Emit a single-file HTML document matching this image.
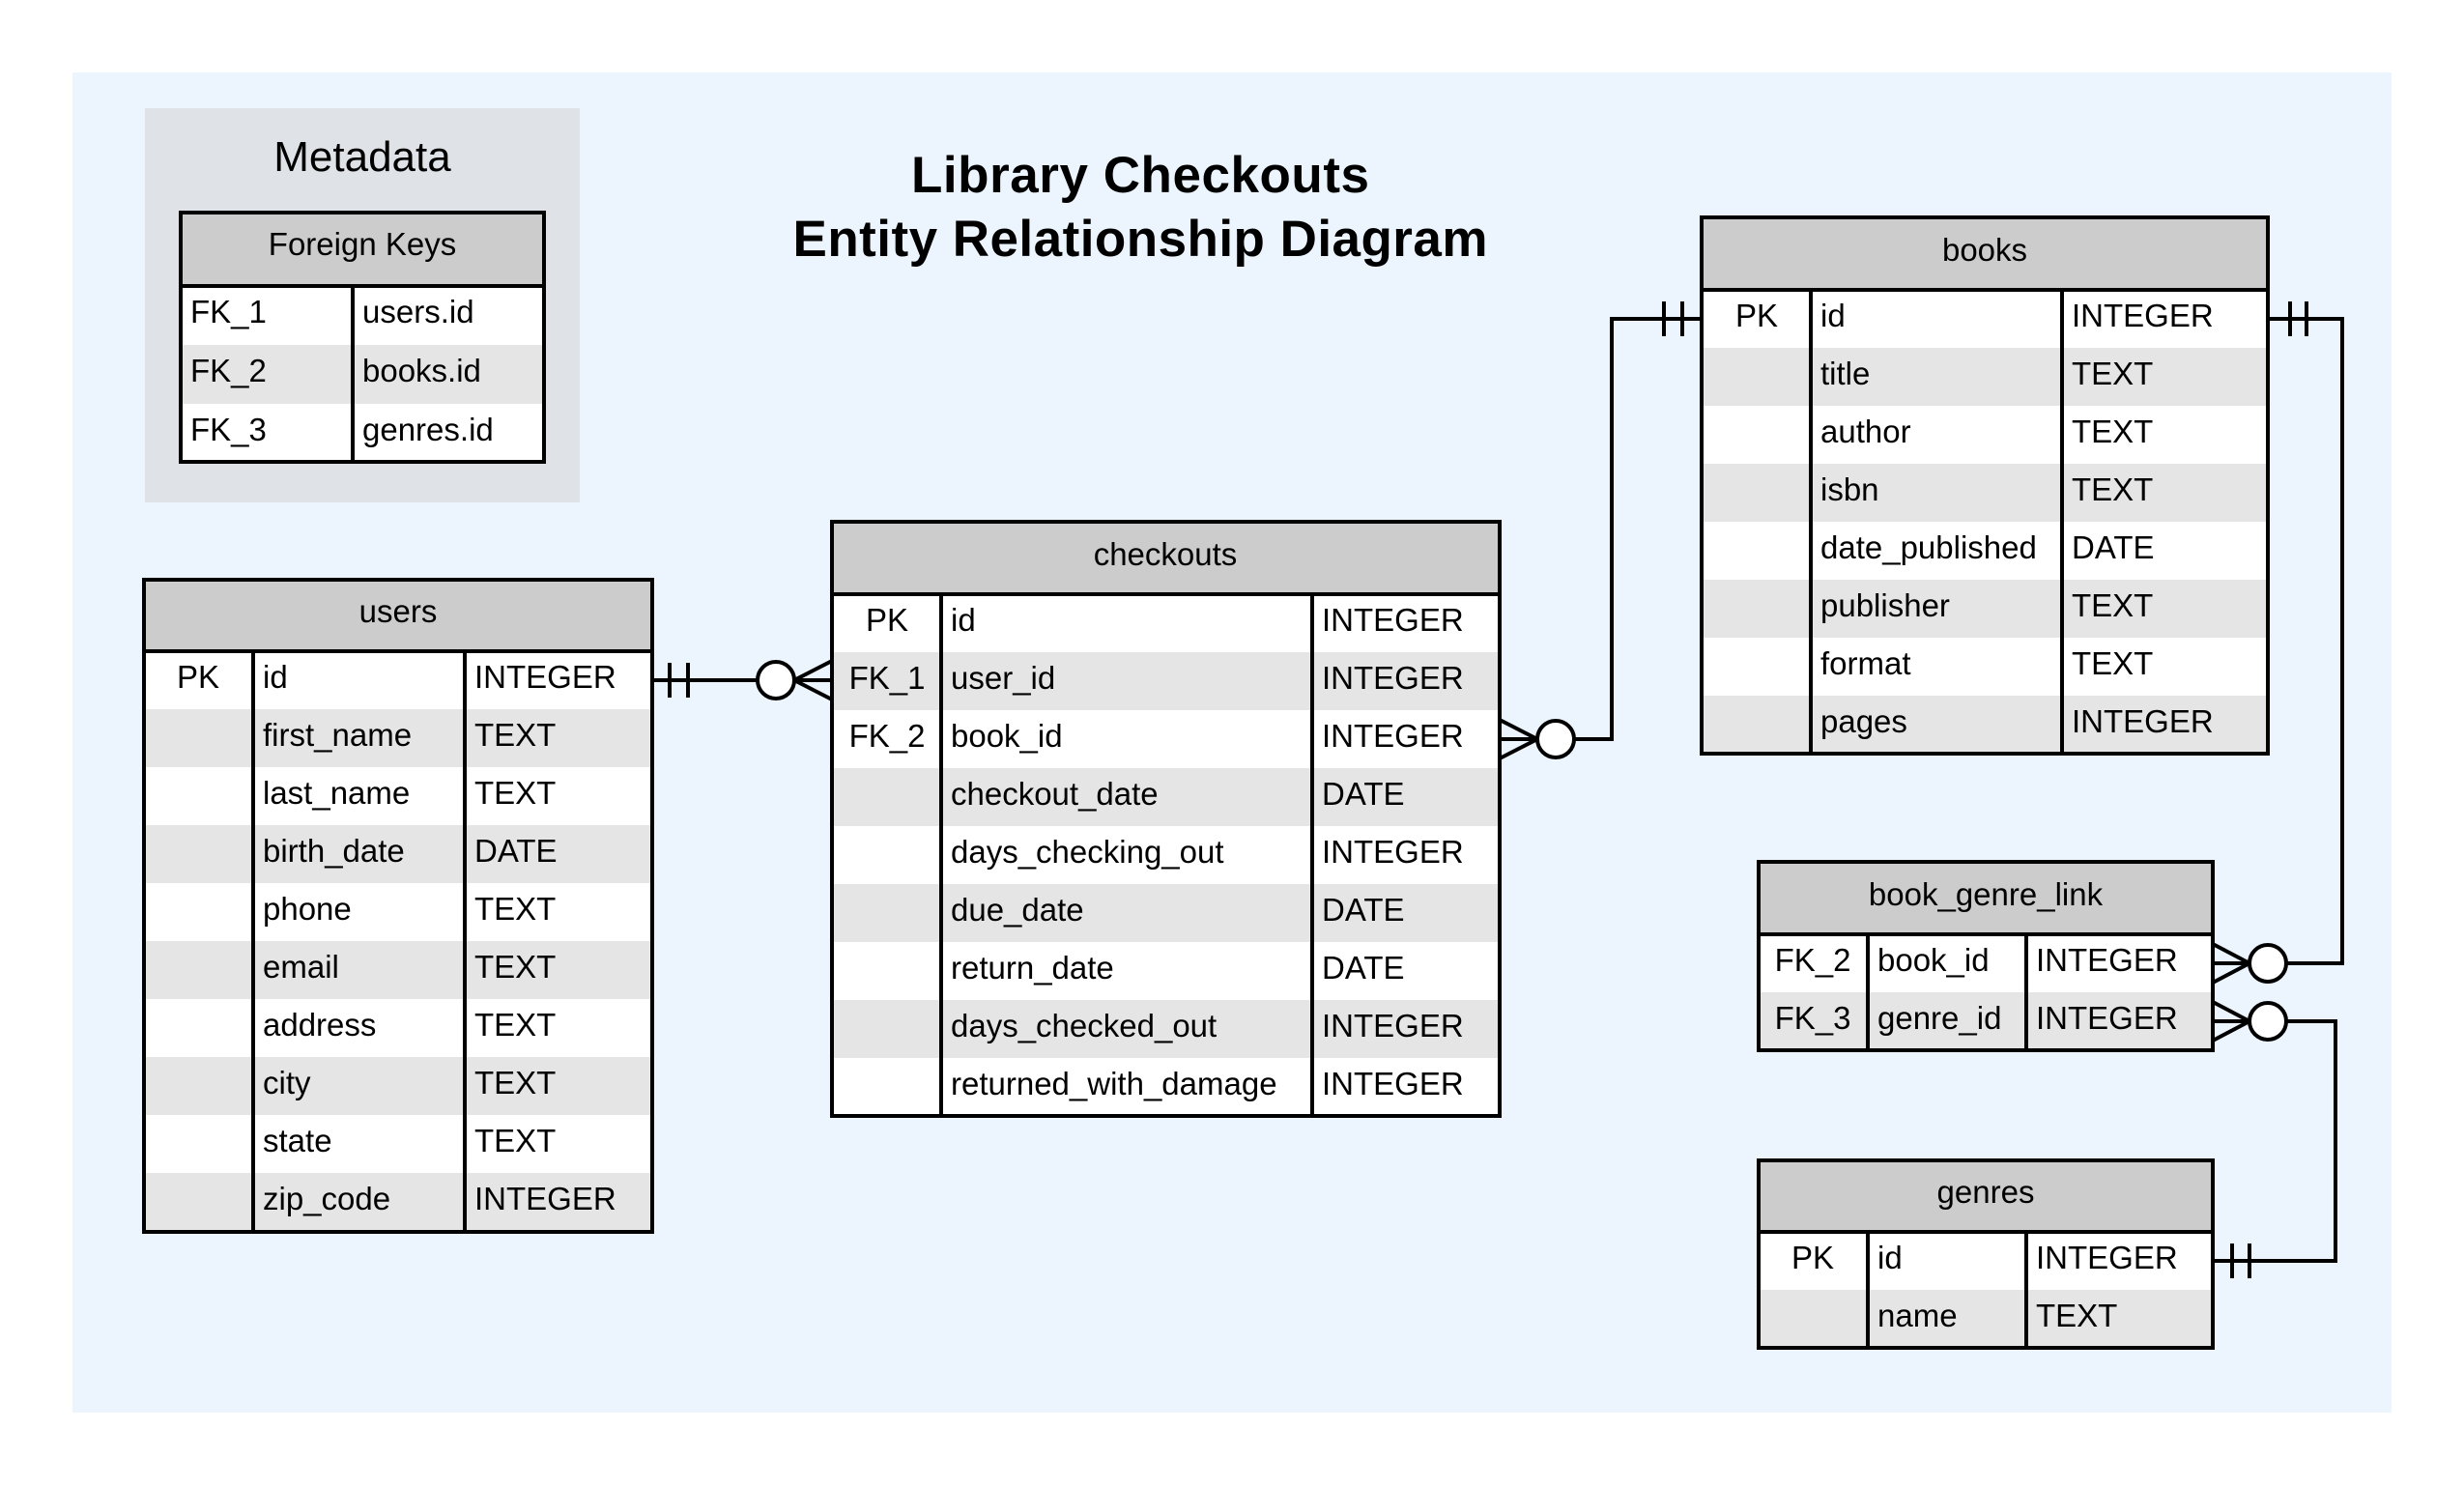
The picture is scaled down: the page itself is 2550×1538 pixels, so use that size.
<!DOCTYPE html>
<html><head><meta charset="utf-8"><style>
html,body{margin:0;padding:0;background:#fff}
svg{display:block}
text{font-family:"Liberation Sans",Arial,sans-serif;fill:#000}
.f{font-size:33px;transform:translateY(-4px)}
.h{font-size:33px;text-anchor:middle;transform:translateY(-4px)}
.c{text-anchor:middle}
</style></head><body>
<svg width="2550" height="1538" viewBox="0 0 2550 1538" xmlns="http://www.w3.org/2000/svg">
<rect x="0" y="0" width="2550" height="1538" fill="#fff"/>
<rect x="75" y="75" width="2400" height="1387" fill="#ecf4fe"/>
<rect x="150" y="112" width="450" height="408" fill="#dfe3e8"/>
<text x="375" y="177" class="c" style="font-size:44px">Metadata</text>

<text x="1180" y="199" class="c" style="font-size:53px;font-weight:bold" textLength="474">Library Checkouts</text>
<text x="1180" y="265" class="c" style="font-size:53px;font-weight:bold" textLength="719">Entity Relationship Diagram</text>

<!-- Foreign keys table -->
<g>
<rect x="187" y="220" width="376" height="76" fill="#cccccc"/>
<rect x="187" y="296" width="376" height="61" fill="#fff"/>
<rect x="187" y="357" width="376" height="61" fill="#e5e5e5"/>
<rect x="187" y="418" width="376" height="60" fill="#fff"/>
<line x1="365" y1="296" x2="365" y2="478" stroke="#000" stroke-width="4"/>
<line x1="187" y1="296" x2="563" y2="296" stroke="#000" stroke-width="4"/>
<rect x="187" y="220" width="376" height="258" fill="none" stroke="#000" stroke-width="4"/>
<text x="375" y="268" class="h">Foreign Keys</text>
<text x="197" y="338" class="f">FK_1</text><text x="375" y="338" class="f">users.id</text>
<text x="197" y="399" class="f">FK_2</text><text x="375" y="399" class="f">books.id</text>
<text x="197" y="460" class="f">FK_3</text><text x="375" y="460" class="f">genres.id</text>
</g>

<!-- users -->
<g>
<rect x="149" y="600" width="526" height="74" fill="#cccccc"/>
<rect x="149" y="674" width="526" height="60" fill="#fff"/>
<rect x="149" y="734" width="526" height="60" fill="#e5e5e5"/>
<rect x="149" y="794" width="526" height="60" fill="#fff"/>
<rect x="149" y="854" width="526" height="60" fill="#e5e5e5"/>
<rect x="149" y="914" width="526" height="60" fill="#fff"/>
<rect x="149" y="974" width="526" height="60" fill="#e5e5e5"/>
<rect x="149" y="1034" width="526" height="60" fill="#fff"/>
<rect x="149" y="1094" width="526" height="60" fill="#e5e5e5"/>
<rect x="149" y="1154" width="526" height="60" fill="#fff"/>
<rect x="149" y="1214" width="526" height="61" fill="#e5e5e5"/>
<line x1="262" y1="674" x2="262" y2="1275" stroke="#000" stroke-width="4"/>
<line x1="481" y1="674" x2="481" y2="1275" stroke="#000" stroke-width="4"/>
<line x1="149" y1="674" x2="675" y2="674" stroke="#000" stroke-width="4"/>
<rect x="149" y="600" width="526" height="675" fill="none" stroke="#000" stroke-width="4"/>
<text x="412" y="648" class="h">users</text>
<text x="205" y="716" class="f c">PK</text>
<text x="272" y="716" class="f">id</text><text x="491" y="716" class="f">INTEGER</text>
<text x="272" y="776" class="f">first_name</text><text x="491" y="776" class="f">TEXT</text>
<text x="272" y="836" class="f">last_name</text><text x="491" y="836" class="f">TEXT</text>
<text x="272" y="896" class="f">birth_date</text><text x="491" y="896" class="f">DATE</text>
<text x="272" y="956" class="f">phone</text><text x="491" y="956" class="f">TEXT</text>
<text x="272" y="1016" class="f">email</text><text x="491" y="1016" class="f">TEXT</text>
<text x="272" y="1076" class="f">address</text><text x="491" y="1076" class="f">TEXT</text>
<text x="272" y="1136" class="f">city</text><text x="491" y="1136" class="f">TEXT</text>
<text x="272" y="1196" class="f">state</text><text x="491" y="1196" class="f">TEXT</text>
<text x="272" y="1256" class="f">zip_code</text><text x="491" y="1256" class="f">INTEGER</text>
</g>

<!-- checkouts -->
<g>
<rect x="861" y="540" width="691" height="75" fill="#cccccc"/>
<rect x="861" y="615" width="691" height="60" fill="#fff"/>
<rect x="861" y="675" width="691" height="60" fill="#e5e5e5"/>
<rect x="861" y="735" width="691" height="60" fill="#fff"/>
<rect x="861" y="795" width="691" height="60" fill="#e5e5e5"/>
<rect x="861" y="855" width="691" height="60" fill="#fff"/>
<rect x="861" y="915" width="691" height="60" fill="#e5e5e5"/>
<rect x="861" y="975" width="691" height="60" fill="#fff"/>
<rect x="861" y="1035" width="691" height="60" fill="#e5e5e5"/>
<rect x="861" y="1095" width="691" height="60" fill="#fff"/>
<line x1="974" y1="615" x2="974" y2="1155" stroke="#000" stroke-width="4"/>
<line x1="1358" y1="615" x2="1358" y2="1155" stroke="#000" stroke-width="4"/>
<line x1="861" y1="615" x2="1552" y2="615" stroke="#000" stroke-width="4"/>
<rect x="861" y="540" width="691" height="615" fill="none" stroke="#000" stroke-width="4"/>
<text x="1206" y="589" class="h">checkouts</text>
<text x="918" y="657" class="f c">PK</text>
<text x="918" y="717" class="f c">FK_1</text>
<text x="918" y="777" class="f c">FK_2</text>
<text x="984" y="657" class="f">id</text><text x="1368" y="657" class="f">INTEGER</text>
<text x="984" y="717" class="f">user_id</text><text x="1368" y="717" class="f">INTEGER</text>
<text x="984" y="777" class="f">book_id</text><text x="1368" y="777" class="f">INTEGER</text>
<text x="984" y="837" class="f">checkout_date</text><text x="1368" y="837" class="f">DATE</text>
<text x="984" y="897" class="f">days_checking_out</text><text x="1368" y="897" class="f">INTEGER</text>
<text x="984" y="957" class="f">due_date</text><text x="1368" y="957" class="f">DATE</text>
<text x="984" y="1017" class="f">return_date</text><text x="1368" y="1017" class="f">DATE</text>
<text x="984" y="1077" class="f">days_checked_out</text><text x="1368" y="1077" class="f">INTEGER</text>
<text x="984" y="1137" class="f">returned_with_damage</text><text x="1368" y="1137" class="f">INTEGER</text>
</g>

<!-- books -->
<g>
<rect x="1761" y="225" width="586" height="75" fill="#cccccc"/>
<rect x="1761" y="300" width="586" height="60" fill="#fff"/>
<rect x="1761" y="360" width="586" height="60" fill="#e5e5e5"/>
<rect x="1761" y="420" width="586" height="60" fill="#fff"/>
<rect x="1761" y="480" width="586" height="60" fill="#e5e5e5"/>
<rect x="1761" y="540" width="586" height="60" fill="#fff"/>
<rect x="1761" y="600" width="586" height="60" fill="#e5e5e5"/>
<rect x="1761" y="660" width="586" height="60" fill="#fff"/>
<rect x="1761" y="720" width="586" height="60" fill="#e5e5e5"/>
<line x1="1874" y1="300" x2="1874" y2="780" stroke="#000" stroke-width="4"/>
<line x1="2134" y1="300" x2="2134" y2="780" stroke="#000" stroke-width="4"/>
<line x1="1761" y1="300" x2="2347" y2="300" stroke="#000" stroke-width="4"/>
<rect x="1761" y="225" width="586" height="555" fill="none" stroke="#000" stroke-width="4"/>
<text x="2054" y="274" class="h">books</text>
<text x="1818" y="342" class="f c">PK</text>
<text x="1884" y="342" class="f">id</text><text x="2144" y="342" class="f">INTEGER</text>
<text x="1884" y="402" class="f">title</text><text x="2144" y="402" class="f">TEXT</text>
<text x="1884" y="462" class="f">author</text><text x="2144" y="462" class="f">TEXT</text>
<text x="1884" y="522" class="f">isbn</text><text x="2144" y="522" class="f">TEXT</text>
<text x="1884" y="582" class="f">date_published</text><text x="2144" y="582" class="f">DATE</text>
<text x="1884" y="642" class="f">publisher</text><text x="2144" y="642" class="f">TEXT</text>
<text x="1884" y="702" class="f">format</text><text x="2144" y="702" class="f">TEXT</text>
<text x="1884" y="762" class="f">pages</text><text x="2144" y="762" class="f">INTEGER</text>
</g>

<!-- book_genre_link -->
<g>
<rect x="1820" y="892" width="470" height="75" fill="#cccccc"/>
<rect x="1820" y="967" width="470" height="60" fill="#fff"/>
<rect x="1820" y="1027" width="470" height="60" fill="#e5e5e5"/>
<line x1="1933" y1="967" x2="1933" y2="1087" stroke="#000" stroke-width="4"/>
<line x1="2097" y1="967" x2="2097" y2="1087" stroke="#000" stroke-width="4"/>
<line x1="1820" y1="967" x2="2290" y2="967" stroke="#000" stroke-width="4"/>
<rect x="1820" y="892" width="470" height="195" fill="none" stroke="#000" stroke-width="4"/>
<text x="2055" y="941" class="h">book_genre_link</text>
<text x="1876" y="1009" class="f c">FK_2</text><text x="1943" y="1009" class="f">book_id</text><text x="2107" y="1009" class="f">INTEGER</text>
<text x="1876" y="1069" class="f c">FK_3</text><text x="1943" y="1069" class="f">genre_id</text><text x="2107" y="1069" class="f">INTEGER</text>
</g>

<!-- genres -->
<g>
<rect x="1820" y="1201" width="470" height="74" fill="#cccccc"/>
<rect x="1820" y="1275" width="470" height="60" fill="#fff"/>
<rect x="1820" y="1335" width="470" height="60" fill="#e5e5e5"/>
<line x1="1933" y1="1275" x2="1933" y2="1395" stroke="#000" stroke-width="4"/>
<line x1="2097" y1="1275" x2="2097" y2="1395" stroke="#000" stroke-width="4"/>
<line x1="1820" y1="1275" x2="2290" y2="1275" stroke="#000" stroke-width="4"/>
<rect x="1820" y="1201" width="470" height="194" fill="none" stroke="#000" stroke-width="4"/>
<text x="2055" y="1249" class="h">genres</text>
<text x="1876" y="1317" class="f c">PK</text><text x="1943" y="1317" class="f">id</text><text x="2107" y="1317" class="f">INTEGER</text>
<text x="1943" y="1377" class="f">name</text><text x="2107" y="1377" class="f">TEXT</text>
</g>

<!-- connectors -->
<g stroke="#000" stroke-width="4" fill="none">
<line x1="675" y1="704" x2="784" y2="704"/>
<line x1="693" y1="686" x2="693" y2="722"/><line x1="712" y1="686" x2="712" y2="722"/>
<polyline points="861,684 822,704 861,724"/><line x1="822" y1="704" x2="861" y2="704"/>
<circle cx="803" cy="704" r="19" fill="#fff"/>
<polyline points="1552,745 1591,765 1552,785"/><line x1="1552" y1="765" x2="1591" y2="765"/>
<circle cx="1610" cy="765" r="19" fill="#fff"/>
<polyline points="1629,765 1668,765 1668,330 1761,330"/>
<line x1="1722" y1="312" x2="1722" y2="348"/><line x1="1741" y1="312" x2="1741" y2="348"/>
<polyline points="2347,330 2424,330 2424,997 2366,997"/>
<line x1="2370" y1="312" x2="2370" y2="348"/><line x1="2387" y1="312" x2="2387" y2="348"/>
<polyline points="2290,977 2328,997 2290,1017"/><line x1="2290" y1="997" x2="2328" y2="997"/>
<circle cx="2347" cy="997" r="19" fill="#fff"/>
<polyline points="2290,1037 2328,1057 2290,1077"/><line x1="2290" y1="1057" x2="2328" y2="1057"/>
<circle cx="2347" cy="1057" r="19" fill="#fff"/>
<polyline points="2366,1057 2417,1057 2417,1305 2290,1305"/>
<line x1="2310" y1="1287" x2="2310" y2="1323"/><line x1="2328" y1="1287" x2="2328" y2="1323"/>
</g>
</svg>
</body></html>
